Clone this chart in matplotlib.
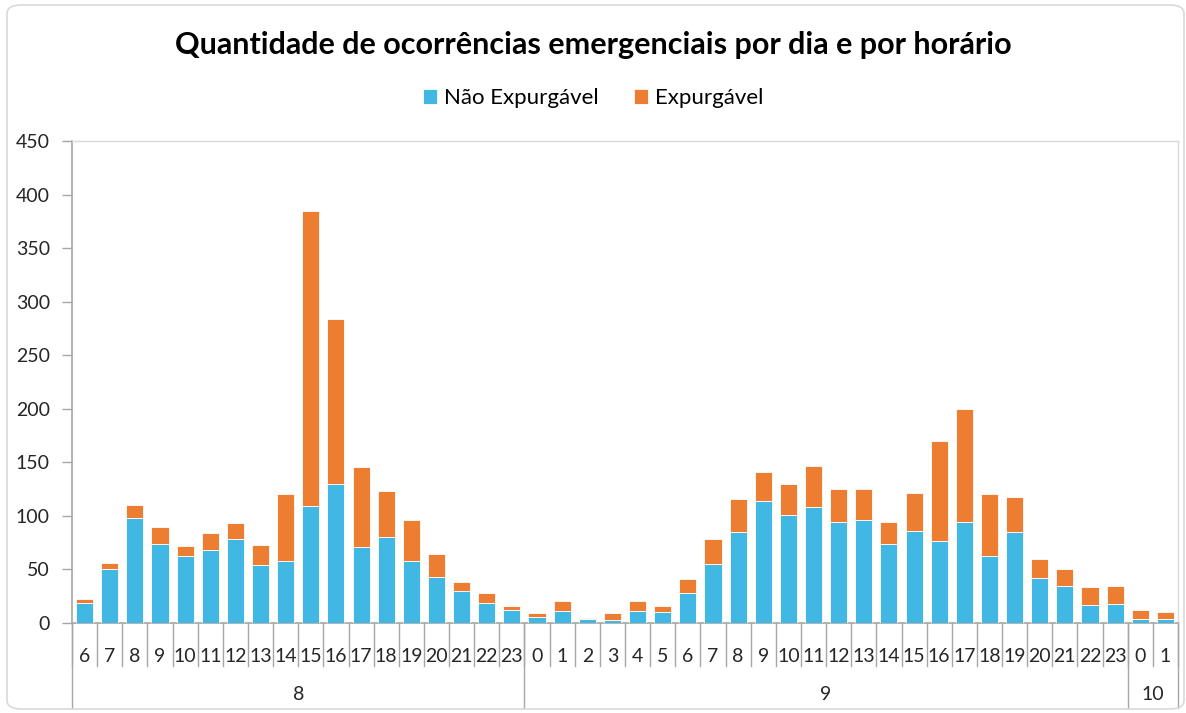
import matplotlib
matplotlib.use("Agg")
import matplotlib.pyplot as plt
from matplotlib.patches import FancyBboxPatch
from matplotlib.transforms import blended_transform_factory
import numpy as np

plt.rcParams['font.family'] = ['Lato', 'DejaVu Sans']

days = ['8', '9', '10']
hours_day8 = [6, 7, 8, 9, 10, 11, 12, 13, 14, 15, 16, 17, 18, 19, 20, 21, 22, 23]
hours_day9 = list(range(24))
hours_day10 = [0, 1]

total_day8 = [22, 56, 110, 90, 72, 84, 93, 73, 120, 385, 284, 146, 123, 96, 64, 38, 28, 16]
nao_day8 = [19, 50, 98, 74, 63, 68, 78, 54, 58, 109, 130, 71, 80, 58, 43, 30, 19, 12]
total_day9 = [9, 21, 5, 9, 21, 16, 41, 78, 116, 141, 130, 147, 125, 125, 94, 121, 170, 200, 120, 118, 60, 50, 34, 35]
nao_day9 = [6, 11, 4, 3, 11, 10, 28, 55, 85, 114, 101, 108, 94, 96, 74, 86, 77, 94, 63, 85, 42, 35, 17, 18]
total_day10 = [12, 10]
nao_day10 = [4, 4]

hours = hours_day8 + hours_day9 + hours_day10
nao = np.array(nao_day8 + nao_day9 + nao_day10)
total = np.array(total_day8 + total_day9 + total_day10)
expurg = total - nao
day_sizes = [len(hours_day8), len(hours_day9), len(hours_day10)]

blue = '#41B8E4'
orange = '#ED7D31'
txt = '#262626'

fig = plt.figure(figsize=(11.86, 7.13), dpi=100)
W, H = 1186, 713
ax = fig.add_axes([72 / W, (H - 623) / H, (1178 - 72) / W, (623 - 141) / H])

x = np.arange(len(hours)) + 0.5
ax.bar(x, nao, width=0.68, color=blue, edgecolor='white', linewidth=0.6, label='Não Expurgável', zorder=3)
ax.bar(x, expurg, width=0.68, bottom=nao, color=orange, edgecolor='white', linewidth=0.6, label='Expurgável', zorder=3)

ax.set_xlim(0, len(hours))
ax.set_ylim(0, 450)
ax.set_yticks(np.arange(0, 451, 50))
ax.tick_params(axis='y', labelsize=14, labelcolor=txt, length=7, width=1, color='#A6A6A6', pad=9)

ax.set_xticks(x)
ax.set_xticklabels([str(h) for h in hours], fontsize=14, color=txt)
ax.tick_params(axis='x', length=0, pad=18)

for s in ['top', 'right']:
    ax.spines[s].set_color('#D9D9D9')
    ax.spines[s].set_linewidth(1)
for s in ['left', 'bottom']:
    ax.spines[s].set_color('#A6A6A6')
    ax.spines[s].set_linewidth(1.2)

trans = blended_transform_factory(ax.transData, ax.transAxes)
# hour separators
for i in range(len(hours) + 1):
    ax.plot([i, i], [0, -0.089], transform=trans, color='#A6A6A6', lw=1, clip_on=False)
# day separators and labels
pos = 0
edges = [0]
for n in day_sizes:
    pos += n
    edges.append(pos)
for e in edges:
    ax.plot([e, e], [0, -0.176], transform=trans, color='#A6A6A6', lw=1, clip_on=False)
for d, a, b in zip(days, edges[:-1], edges[1:]):
    ax.text((a + b) / 2, -0.148, d, transform=trans, ha='center', va='center', fontsize=14, color=txt)

fig.text(0.5, (H - 45) / H, 'Quantidade de ocorrências emergenciais por dia e por horário',
         ha='center', va='center', fontsize=22, fontweight='bold', color='black')

fig.legend(loc='center', bbox_to_anchor=(0.5, (H - 98) / H), ncol=2, frameon=False,
           fontsize=16, handlelength=0.65, handleheight=0.65, handletextpad=0.3, columnspacing=1.6)

border = FancyBboxPatch((7 / W, 4 / H), (1177) / W, (704) / H, boxstyle='round,pad=0,rounding_size=0.012',
                        transform=fig.transFigure, facecolor='none', edgecolor='#D9D9D9', lw=1.2)
fig.patches.append(border)

fig.savefig('out.png', dpi=100, facecolor='white')
